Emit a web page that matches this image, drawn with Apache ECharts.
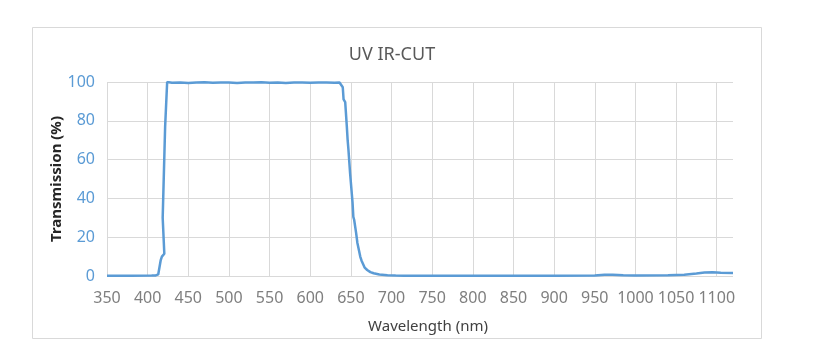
<!DOCTYPE html>
<html>
<head>
<meta charset="utf-8">
<script src="https://cdn.jsdelivr.net/npm/echarts@6/dist/echarts.min.js"></script>
<style>
  html, body { margin: 0; padding: 0; background: #fff; }
  #chart { width: 820px; height: 352px; }
</style>
</head>
<body>
<div id="chart"></div>
<script>
// 波长 (nm)
var wavelength = [
    350, 380, 405, 410, 413, 415, 416, 417.5, 419.5, 420.5, 418.5, 419.5, 421.5, 422.5, 424,
    430, 440, 450, 460, 470, 480, 490, 500, 510, 520, 530, 540, 550, 560, 570, 580, 590, 600,
    610, 620, 630, 636, 638,
    640, 641, 643, 645, 646, 647, 648, 649, 650, 651, 652, 653, 654, 656.5, 658, 659.5, 661.5,
    663, 665.5, 667, 670, 674, 678, 685, 695, 705, 715,
    750, 800, 850, 900, 950, 962, 972, 985, 1000, 1040, 1060, 1075, 1085, 1095, 1105, 1120
];
// 透过率 (%)
var transmission = [
    0.1, 0.1, 0.2, 0.3, 0.8, 1.5, 8, 10, 11, 11.5, 30, 31, 77, 78, 100,
    99.6, 99.8, 99.5, 99.7, 99.9, 99.6, 99.8, 99.7, 99.5, 99.8, 99.7, 99.9, 99.6, 99.8, 99.5, 99.7, 99.8, 99.6,
    99.7, 99.8, 99.6, 99.7, 99.2,
    97.3, 91, 89.6, 77, 70, 65, 64.5, 53, 52, 43, 38, 30.5, 29, 22, 17, 14, 10,
    8, 5.7, 4.3, 3.1, 2, 1.4, 0.8, 0.4, 0.2, 0.1,
    0.1, 0.1, 0.1, 0.1, 0.2, 0.6, 0.7, 0.4, 0.3, 0.4, 0.7, 1.3, 1.8, 1.9, 1.7, 1.6
];

var xMin = 350, xMax = 1120, xStep = 50;
var yMin = 0, yMax = 100, yStep = 20;

var points = [];
for (var i = 0; i < wavelength.length; i++) {
    points.push([wavelength[i], transmission[i]]);
}

var font = 'Noto Sans';

var option = {
    backgroundColor: '#fff',
    animation: false,
    title: {
        text: 'UV IR-CUT',
        left: 387,
        top: 41,
        textAlign: 'center',
        textStyle: { fontFamily: font, fontSize: 18, fontWeight: 'normal', color: '#595959' }
    },
    //外框
    graphic: [{
        type: 'rect',
        shape: { x: 32.5, y: 27.5, width: 729, height: 311 },
        style: { fill: 'none', stroke: '#d9d9d9', lineWidth: 1 },
        silent: true
    }],
    grid: { left: 107, right: 87, top: 82, bottom: 76 },
    xAxis: {
        type: 'value',
        min: xMin,
        max: xMax,
        interval: xStep,
        name: 'Wavelength (nm)',
        nameLocation: 'middle',
        nameGap: 43,
        nameMoveOverlap: false,
        nameTextStyle: { fontFamily: font, fontSize: 15, color: '#404040', padding: [0, 0, 0, 16] },
        axisLine: { show: false },
        axisTick: { show: false },
        axisLabel: {
            margin: 14,
            showMaxLabel: false,
            fontFamily: font,
            fontSize: 16,
            color: '#7f7f7f',
            formatter: function (v) { return String(v); }
        },
        splitLine: { show: true, showMaxLine: false, lineStyle: { color: '#d9d9d9', width: 1 } }
    },
    yAxis: {
        type: 'value',
        min: yMin,
        max: yMax,
        interval: yStep,
        name: 'Transmission (%)',
        nameLocation: 'middle',
        nameGap: 43,
        nameMoveOverlap: false,
        nameTextStyle: { fontFamily: font, fontSize: 15, fontWeight: 'bold', color: '#262626' },
        axisLine: { show: false },
        axisTick: { show: false },
        axisLabel: { margin: 12, fontFamily: font, fontSize: 16, color: '#5b9bd5' },
        splitLine: { show: true, lineStyle: { color: '#d9d9d9', width: 1 } }
    },
    series: [{
        type: 'line',
        data: points,
        showSymbol: false,
        clip: true,
        lineStyle: { color: '#5b9bd5', width: 2.5 }
    }]
};

var myChart = echarts.init(document.getElementById('chart'));
myChart.setOption(option);
</script>
</body>
</html>
